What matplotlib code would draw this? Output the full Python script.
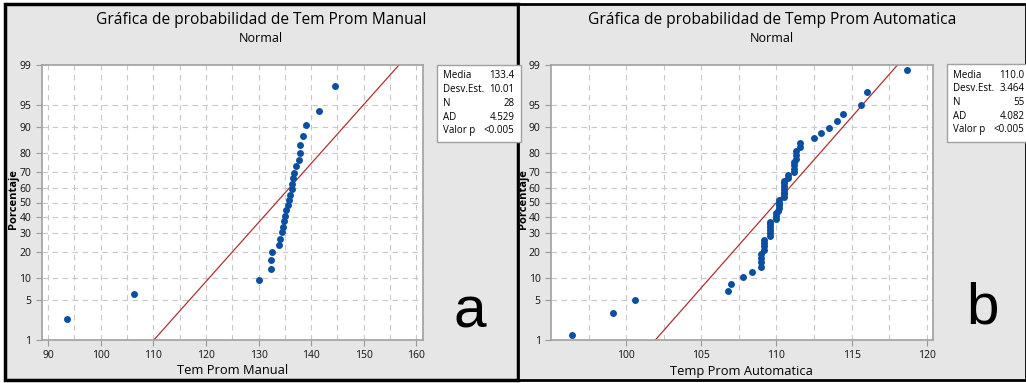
import matplotlib
matplotlib.use("Agg")
import matplotlib.pyplot as plt
from matplotlib.patches import Rectangle
from statistics import NormalDist

# datos (ordenados)
manual = [93.6, 106.4, 130.0, 132.4, 132.4, 132.6, 133.9, 134.1, 134.4, 134.7,
          134.9, 135.1, 135.2, 135.6, 135.8, 136.0, 136.3, 136.4, 136.5, 136.8,
          137.1, 137.7, 137.9, 137.9, 138.4, 139.0, 141.5, 144.6]
automatica = [96.4, 99.1, 100.6, 106.8, 107.0, 107.8, 108.4, 109.0, 109.0, 109.0,
              109.0, 109.2, 109.2, 109.2, 109.2, 109.6, 109.6, 109.6, 109.6, 109.6,
              109.6, 110.0, 110.0, 110.0, 110.1, 110.2, 110.2, 110.2, 110.2, 110.5,
              110.5, 110.5, 110.5, 110.5, 110.5, 110.5, 110.8, 110.8, 111.2, 111.2,
              111.2, 111.2, 111.3, 111.3, 111.3, 111.6, 111.6, 112.5, 113.0, 113.5,
              114.0, 114.4, 115.6, 116.0, 118.7]

stat_names = ["Media", "Desv.Est.", "N", "AD", "Valor p"]
stats_manual = ["133.4", "10.01", "28", "4.529", "<0.005"]
stats_auto = ["110.0", "3.464", "55", "4.082", "<0.005"]
mu_manual, sd_manual = 133.4, 10.01
mu_auto, sd_auto = 110.0, 3.464

pct_ticks = [1, 5, 10, 20, 30, 40, 50, 60, 70, 80, 90, 95, 99]

W, H = 1026, 383
fig = plt.figure(figsize=(W / 100, H / 100), dpi=100)
fig.patch.set_facecolor("white")
plt.rcParams['font.family'] = ['Open Sans', 'DejaVu Sans']

nd = NormalDist()


def fx(px):
    return px / W


def fy(py):
    return 1 - py / H


def rect_px(x0, y0, x1, y1, **kw):
    r = Rectangle((fx(x0), fy(y1)), fx(x1) - fx(x0), fy(y0) - fy(y1),
                  transform=fig.transFigure, **kw)
    fig.add_artist(r)


# paneles de fondo
rect_px(5, 4, 518, 380, facecolor="#e6e6e6", edgecolor="black", lw=2.5, zorder=0)
rect_px(518, 4, 1026, 380, facecolor="#e6e6e6", edgecolor="black", lw=2.0, zorder=0)


def prob_plot(data, mu, sd, ax_px, xlim, xticks, xgrid, title_cx, title, xlabel,
              stats, box_px, letter, letter_pos):
    x0, y0, x1, y1 = ax_px
    ax = fig.add_axes([fx(x0), fy(y1), fx(x1) - fx(x0), fy(y0) - fy(y1)])
    ax.set_facecolor("white")
    n = len(data)
    zs = [nd.inv_cdf((i + 1 - 0.3) / (n + 0.4)) for i in range(n)]
    zlo, zhi = nd.inv_cdf(0.01), nd.inv_cdf(0.99)

    for g in xgrid:
        ax.axvline(g, color="#c8c8c8", lw=0.8, ls=(0, (5, 4)), zorder=1)
    for p in pct_ticks[1:-1]:
        ax.axhline(nd.inv_cdf(p / 100), color="#c8c8c8", lw=0.8, ls=(0, (5, 4)), zorder=1)

    ax.plot([mu + sd * zlo, mu + sd * zhi], [zlo, zhi], color="#b03030", lw=0.9, zorder=2)
    ax.plot(sorted(data), zs, "o", color="#0a4fa0", ms=5, mec="none", zorder=3)

    ax.set_xlim(*xlim)
    ax.set_ylim(zlo, zhi)
    ax.set_xticks(xticks)
    ax.set_xticklabels([str(t) for t in xticks])
    ax.set_yticks([nd.inv_cdf(p / 100) for p in pct_ticks])
    ax.set_yticklabels([str(p) for p in pct_ticks])
    ax.tick_params(labelsize=7.5, colors="#111111", length=4, width=0.8, color="#999999")
    for s in ax.spines.values():
        s.set_color("#a0a0a0")
        s.set_linewidth(1.2)

    fig.text(fx((x0 + x1) / 2), fy(y1 + 31), xlabel, fontsize=9.3,
             ha="center", va="center")
    cy = (y0 + y1) / 2 - 3
    fig.text(fx(x0 - 28), fy(cy), "Porcentaje", rotation=90, fontsize=8,
             fontweight="bold", ha="center", va="center")

    fig.text(fx(title_cx), fy(20), title, fontsize=11.2, ha="center", va="center")
    fig.text(fx(title_cx), fy(39), "Normal", fontsize=9, ha="center", va="center")

    bx0, by0, bx1, by1 = box_px
    rect_px(bx0, by0, bx1, by1, facecolor="white", edgecolor="#a0a0a0", lw=1, zorder=1)
    for k, (name, val) in enumerate(zip(stat_names, stats)):
        yy = by0 + 11 + k * 13.7
        fig.text(fx(bx0 + 6), fy(yy), name, fontsize=7, ha="left", va="center")
        fig.text(fx(bx0 + 78), fy(yy), val, fontsize=7, ha="right", va="center")

    fig.text(fx(letter_pos[0]), fy(letter_pos[1]), letter, fontsize=42,
             family="Liberation Sans", ha="center", va="center")
    return ax


prob_plot(manual, mu_manual, sd_manual, (41.7, 65, 422.7, 340), (88.8, 161.2),
          [90, 100, 110, 120, 130, 140, 150, 160], list(range(90, 161, 5)),
          261, "Gráfica de probabilidad de Tem Prom Manual", "Tem Prom Manual",
          stats_manual, (436.7, 65, 521, 142), "a", (470, 312))

prob_plot(automatica, mu_auto, sd_auto, (551, 65, 932.7, 340), (95.0, 120.4),
          [100, 105, 110, 115, 120], [97.5 + 2.5 * k for k in range(10)],
          772, "Gráfica de probabilidad de Temp Prom Automatica", "Temp Prom Automatica",
          stats_auto, (946.7, 64, 1030, 142), "b", (983, 309))

fig.savefig("out.png", dpi=100)
